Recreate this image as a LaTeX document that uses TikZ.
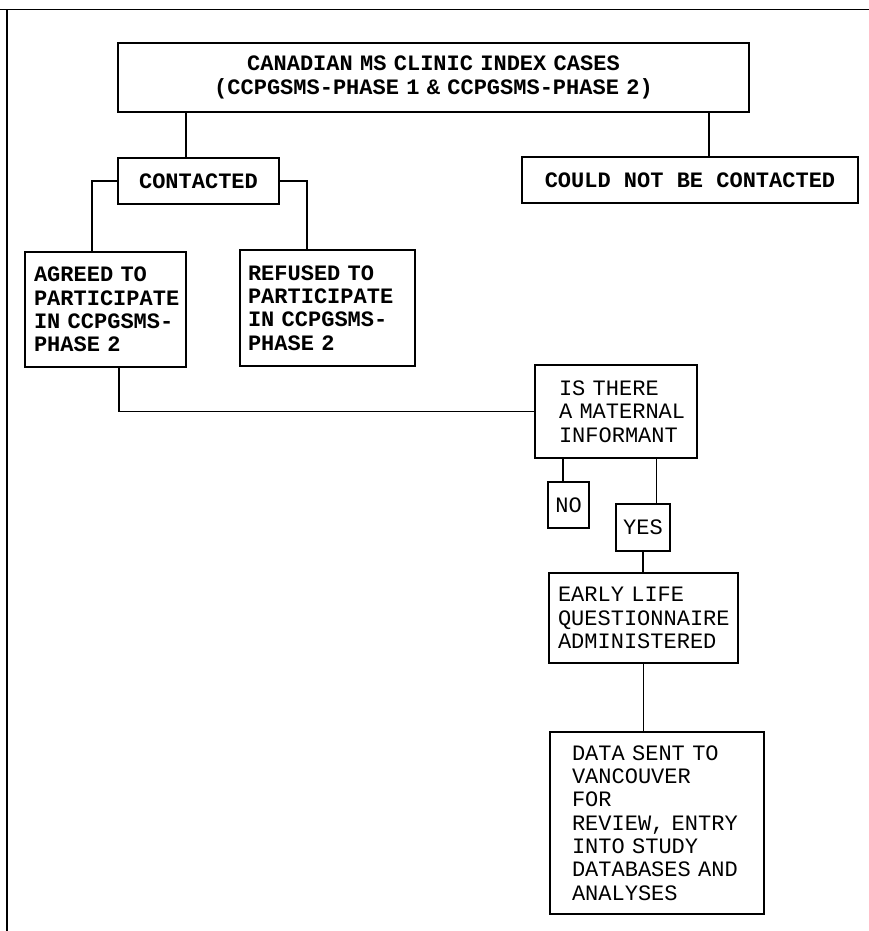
\documentclass[tikz,border=0pt]{standalone}
\usepackage{fontspec}
\setmainfont{Liberation Mono}
\newcommand{\monosize}{\fontsize{22}{23.3}\selectfont\spaceskip=13.2pt\relax\xspaceskip=13.2pt\relax}
\begin{document}
\begin{tikzpicture}[x=1pt,y=-1pt,
  box/.style={draw, line width=1.6pt, inner ysep=0pt, font=\monosize},
  boldbox/.style={box, font=\monosize\bfseries},
  lpad/.style={execute at begin node={\leftskip=#1\relax}},
  conn/.style={line width=1.6pt}]
\useasboundingbox (0,0) rectangle (869,931);
% frame
\draw[line width=1.6pt] (0,9.5) -- (869,9.5);
\draw[line width=1.6pt] (7,9.5) -- (7,931);
% nodes
\node[boldbox, minimum width=631pt, minimum height=69pt, text width=611pt, inner xsep=10pt, align=center] (top) at (433.5,77.5)
  {CANADIAN MS CLINIC INDEX CASES\\(CCPGSMS-PHASE 1 \& CCPGSMS-PHASE 2)};
\node[boldbox, minimum width=161pt, minimum height=46pt, align=center] (contacted) at (198.5,181) {CONTACTED};
\node[boldbox, minimum width=336pt, minimum height=46pt, align=center] (could) at (690,180) {COULD NOT BE CONTACTED};
\node[boldbox, minimum width=161pt, minimum height=115pt, inner xsep=5pt, text width=151pt, align=left, lpad=4pt] (agreed) at (105.5,309.5)
  {AGREED TO\\PARTICIPATE\\IN CCPGSMS-\\PHASE 2};
\node[boldbox, minimum width=175pt, minimum height=116pt, inner xsep=8pt, text width=159pt, align=left] (refused) at (327.5,308)
  {REFUSED TO\\PARTICIPATE\\IN CCPGSMS-\\PHASE 2};
\node[box, minimum width=162pt, minimum height=93pt, inner xsep=4pt, text width=154pt, align=left, lpad=20pt] (maternal) at (616,411.5)
  {IS THERE\\A MATERNAL\\INFORMANT};
\node[box, minimum width=41pt, minimum height=46pt, inner xsep=2pt, align=center] (no) at (568.5,505) {NO};
\node[box, minimum width=54pt, minimum height=47pt, inner xsep=2pt, align=center] (yes) at (643,527.5) {YES};
\node[box, minimum width=189pt, minimum height=90pt, inner xsep=4pt, text width=181pt, align=left, lpad=5pt] (early) at (643.5,618)
  {EARLY LIFE\\QUESTIONNAIRE\\ADMINISTERED};
\node[box, minimum width=214pt, minimum height=182pt, inner xsep=10pt, text width=194pt, align=left, lpad=12pt] (data) at (657,823)
  {DATA SENT TO\\VANCOUVER\\FOR\\REVIEW, ENTRY\\INTO STUDY\\DATABASES AND\\ANALYSES};
% helper coordinates
\coordinate (c1) at ([xshift=-12.5pt]contacted.north);
\coordinate (c2) at ([xshift=19pt]could.north);
\coordinate (c3) at ([xshift=-13.5pt]agreed.north);
\coordinate (c4) at ([xshift=-20.5pt]refused.north);
\coordinate (c5) at ([xshift=13.5pt]agreed.south);
\coordinate (c6) at ([xshift=-5.5pt]no.north);
\coordinate (c7) at ([xshift=13.5pt]yes.north);
% connectors
\draw[conn] (c1 |- top.south) -- (c1);
\draw[conn] (c2 |- top.south) -- (c2);
\draw[conn] (contacted.west) -| (c3);
\draw[conn] (contacted.east) -| (c4);
\draw[conn] (c5) |- (maternal.west);
\draw[conn] (c6 |- maternal.south) -- (c6);
\draw[conn] (c7 |- maternal.south) -- (c7);
\draw[conn] (yes.south) -- (yes.south |- early.north);
\draw[conn] (early.south) -- (early.south |- data.north);
\end{tikzpicture}
\end{document}
